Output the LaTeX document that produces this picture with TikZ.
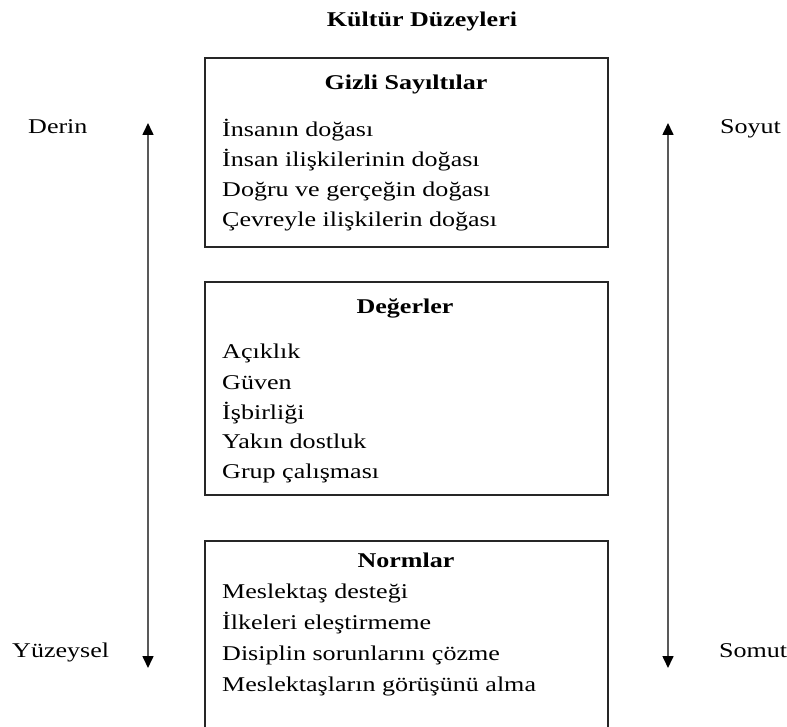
\documentclass[tikz,border=0pt]{standalone}
\usepackage{fontspec}
\setmainfont[FakeStretch=1.24]{Liberation Serif}
\usetikzlibrary{arrows.meta}
\tikzset{
	katman/.style={draw=black!85, line width=1.8pt, rectangle, inner sep=0pt},
	baslik/.style={font=\fontsize{21}{25}\selectfont\bfseries, anchor=base, inner sep=0pt},
	madde/.style={font=\fontsize{21}{25}\selectfont, anchor=base west, inner sep=0pt},
	uc/.style={font=\fontsize{21}{25}\selectfont, anchor=base west, inner sep=0pt},
	eksen/.style={draw=black!65, line width=1.6pt, {Triangle[width=11pt,length=12pt,color=black]}-{Triangle[width=11pt,length=12pt,color=black]}}
}
\begin{document}
\begin{tikzpicture}[x=1pt, y=-1pt]
		\clip (0,0) rectangle (787,727);
		\fill[white] (0,0) rectangle (787,727);
		
		\node[baslik] (baslik) at (422,27) {Kültür Düzeyleri};
		
		% katmanlar
		\node[katman, minimum width=403pt, minimum height=189pt] (gizli) at (406.5,152.5) {};
		\node[katman, minimum width=403pt, minimum height=213pt] (degerler) at (406.5,388.5) {};
		\node[katman, minimum width=403pt, minimum height=204pt] (normlar) at (406.5,643) {};
		
		\node[baslik] (gizliB) at (406,90) {Gizli Sayıltılar};
		\node[madde] (g1) at (222,137) {İnsanın doğası};
		\node[madde] (g2) at (222,167) {İnsan ilişkilerinin doğası};
		\node[madde] (g3) at (222,197) {Doğru ve gerçeğin doğası};
		\node[madde] (g4) at (222,227) {Çevreyle ilişkilerin doğası};
		
		\node[baslik] (degerlerB) at (405,313) {Değerler};
		\node[madde] (d1) at (222,358) {Açıklık};
		\node[madde] (d2) at (222,389) {Güven};
		\node[madde] (d3) at (222,419) {İşbirliği};
		\node[madde] (d4) at (222,448) {Yakın dostluk};
		\node[madde] (d5) at (222,478) {Grup çalışması};
		
		\node[baslik] (normlarB) at (406,567) {Normlar};
		\node[madde] (n1) at (222,598) {Meslektaş desteği};
		\node[madde] (n2) at (222,629) {İlkeleri eleştirmeme};
		\node[madde] (n3) at (222,660) {Disiplin sorunlarını çözme};
		\node[madde] (n4) at (222,691) {Meslektaşların görüşünü alma};
		
		% eksenler
		\node[uc] (derin) at (28,134) {Derin};
		\node[uc] (yuzeysel) at (12,657) {Yüzeysel};
		\node[uc] (soyut) at (720,134) {Soyut};
		\node[uc] (somut) at (719,657) {Somut};
		\coordinate (solUst) at (148,123);
		\coordinate (solAlt) at (148,668);
		\coordinate (sagUst) at (668,123);
		\coordinate (sagAlt) at (668,668);
		\draw[eksen] (solUst) -- (solAlt);
		\draw[eksen] (sagUst) -- (sagAlt);
		
	\end{tikzpicture}
\end{document}
